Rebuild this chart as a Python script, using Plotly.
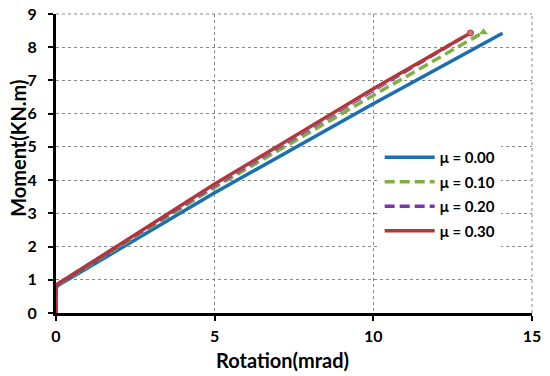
import plotly.graph_objects as go

# Data
x_mu000 = [0, 0, 0.1, 5.0, 10.0, 14.07]
y_mu000 = [0, 0.78, 0.85, 3.62, 6.30, 8.42]

x_mu010 = [0, 0, 0.1, 5.0, 10.0, 13.47]
y_mu010 = [0, 0.82, 0.88, 3.78, 6.55, 8.45]

x_mu020 = [0, 0, 0.1, 5.0, 10.0, 13.0]
y_mu020 = [0, 0.84, 0.90, 3.84, 6.70, 8.40]

x_mu030 = [0, 0, 0.1, 5.0, 10.0, 13.06]
y_mu030 = [0, 0.85, 0.90, 3.88, 6.75, 8.43]

names = ["μ = 0.00", "μ = 0.10", "μ = 0.20", "μ = 0.30"]
x_ticks = [0, 5, 10, 15]
y_ticks = list(range(0, 10))

BLUE = "#1b6fb0"
GREEN = "#7fb040"
PURPLE = "#7a35b0"
RED = "#b2373a"
GRID = "#888"

fig = go.Figure()
fig.add_trace(go.Scatter(x=x_mu000, y=y_mu000, name=names[0], mode="lines",
                         legendgroup="a", line=dict(color=BLUE, width=3.5)))
fig.add_trace(go.Scatter(x=x_mu010, y=y_mu010, name=names[1], mode="lines",
                         legendgroup="b", line=dict(color=GREEN, width=3.5, dash="10px,5px")))
fig.add_trace(go.Scatter(x=x_mu020, y=y_mu020, name=names[2], mode="lines",
                         legendgroup="c", line=dict(color=PURPLE, width=3.5, dash="10px,5px")))
fig.add_trace(go.Scatter(x=x_mu020, y=y_mu020, name=names[2], mode="lines", showlegend=False,
                         legendgroup="c", line=dict(color="white", width=1.2, dash="10px,5px")))
fig.add_trace(go.Scatter(x=x_mu030, y=y_mu030, name=names[3], mode="lines",
                         legendgroup="d", line=dict(color=RED, width=3.5)))
# end markers
fig.add_trace(go.Scatter(x=[x_mu010[-1]], y=[y_mu010[-1]], mode="markers", showlegend=False,
                         marker=dict(symbol="triangle-up", color=GREEN, size=8)))
fig.add_trace(go.Scatter(x=[x_mu030[-1]], y=[y_mu030[-1]], mode="markers", showlegend=False,
                         marker=dict(symbol="circle", color="#e07070", size=6,
                                     line=dict(color=RED, width=1))))

tickfont = dict(size=16, family="Lato", weight="bold", color="black")
titlefont = dict(size=20, family="Lato", weight="bold", color="black")

fig.update_layout(
    width=550, height=376,
    margin=dict(l=56, r=18, t=14, b=63),
    paper_bgcolor="white", plot_bgcolor="white",
    font=dict(family="Lato, Open Sans, sans-serif", color="black"),
    legend=dict(x=0.68, y=0.575, xanchor="left", yanchor="top", itemwidth=50,
                bgcolor="white", font=dict(size=15, color="black", family="Lato", weight="bold"),
                traceorder="grouped", tracegroupgap=2),
    xaxis=dict(range=[0, 15], tickvals=x_ticks, showgrid=True, automargin=False,
               gridcolor=GRID, griddash="dot", gridwidth=1,
               showline=True, linecolor="black", linewidth=3,
               ticks="outside", ticklen=5, tickwidth=2, tickcolor="black",
               ticklabelstandoff=2, tickfont=tickfont, zeroline=False),
    yaxis=dict(range=[0, 9], tickvals=y_ticks, showgrid=True, automargin=False,
               gridcolor=GRID, griddash="dot", gridwidth=1,
               showline=True, linecolor="black", linewidth=3,
               ticks="outside", ticklen=5, tickwidth=2, tickcolor="black",
               ticklabelstandoff=8, tickfont=tickfont, zeroline=False),
    shapes=[
        dict(type="line", xref="paper", yref="paper", x0=0, x1=1, y0=1, y1=1,
             line=dict(color=GRID, width=1, dash="dot"), layer="below"),
        dict(type="line", xref="paper", yref="paper", x0=1, x1=1, y0=0, y1=1,
             line=dict(color=GRID, width=1, dash="dot"), layer="below"),
    ],
    annotations=[
        dict(text="Rotation(mrad)", xref="paper", yref="paper", x=0.475, y=-0.156,
             xanchor="center", yanchor="middle", showarrow=False, font=titlefont),
        dict(text="Moment(KN.m)", xref="paper", yref="paper", x=-0.080, y=0.552,
             xanchor="center", yanchor="middle", showarrow=False, textangle=-90,
             font=titlefont),
    ],
)

fig.write_html("out.html", config={"displayModeBar": False},
               post_script="document.body.style.margin='0px';")
